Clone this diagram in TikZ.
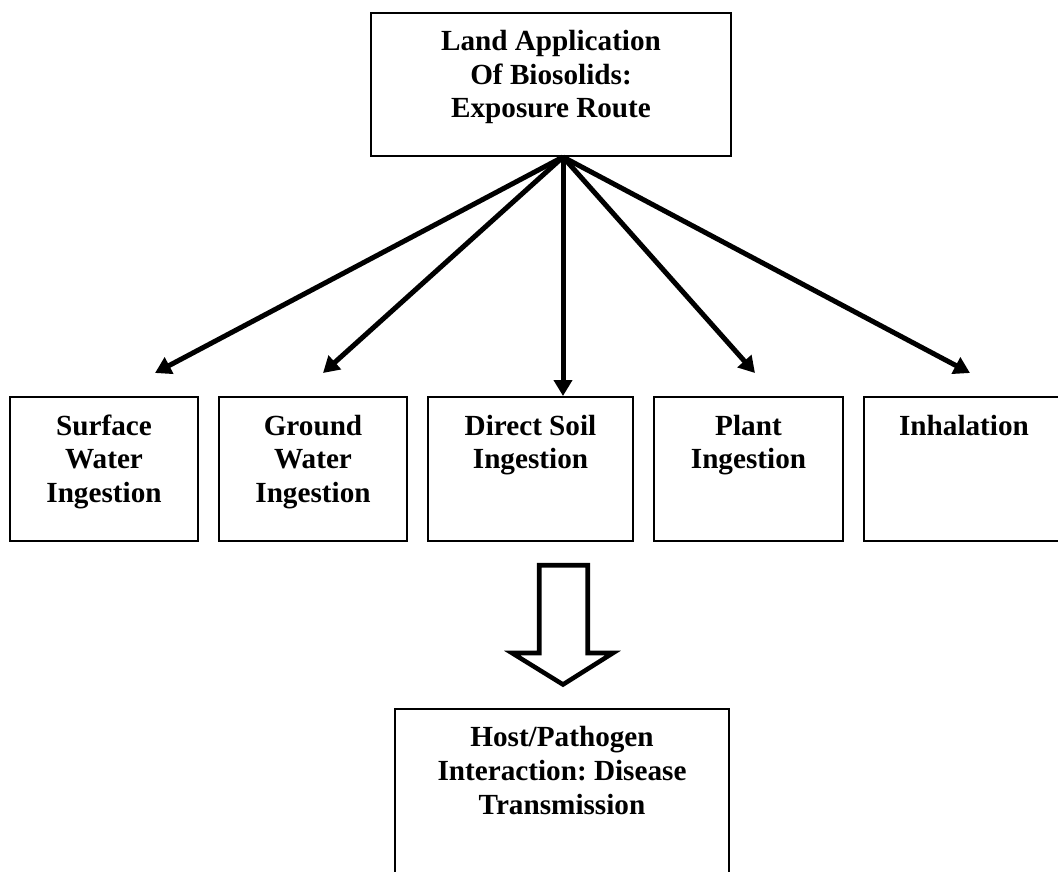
\documentclass[tikz,border=0pt]{standalone}
\usepackage{fontspec}
\setmainfont{Liberation Serif}
\usetikzlibrary{arrows.meta,calc}
\frenchspacing

\begin{document}
\begin{tikzpicture}[x=0.75pt, y=-0.75pt,
  >={Triangle[length=12pt, width=13.5pt]},
  box/.style={draw, line width=1.5pt, inner sep=0pt, minimum height=108pt},
  txt/.style={anchor=north, inner sep=0pt, align=center,
    font=\fontsize{21.9pt}{25.2pt}\selectfont\bfseries},
  route/.style={->, line width=3.75pt}]
  \useasboundingbox (0,0) rectangle (1058,872);
  \clip (0,0) rectangle (1058,872);
  \fill[white] (0,0) rectangle (1058,872);
  % source
  \node[box, line width=1.9pt, minimum width=270pt, minimum height=107.25pt] (land) at (551,84.5) {};
  \node[txt] (landtxt) at ($(land.north)+(0,18.5)$) {Land Application\\Of Biosolids:\\Exposure Route};
  % routes
  \node[box, minimum width=141pt] (surface) at (104,469) {};
  \node[box, minimum width=141pt] (ground) at (313,469) {};
  \node[box, minimum width=153.75pt] (soil) at (530.5,469) {};
  \node[box, minimum width=141.75pt] (plant) at (748.5,469) {};
  \node[box, minimum width=150pt] (inhal) at (964,469) {};
  \node[txt] (surfacetxt) at ($(surface.north)+(0,18.5)$) {Surface\\Water\\Ingestion};
  \node[txt] (groundtxt) at ($(ground.north)+(0,18.5)$) {Ground\\Water\\Ingestion};
  \node[txt] (soiltxt) at ($(soil.north)+(0,18.5)$) {Direct Soil\\Ingestion};
  \node[txt] (planttxt) at ($(plant.north)+(0,18.5)$) {Plant\\Ingestion};
  \node[txt] (inhaltxt) at ($(inhal.north)+(0,18.5)$) {Inhalation};
  % outcome
  \node[box, line width=1.7pt, minimum width=250.5pt, minimum height=135pt] (host) at (562,799) {};
  \node[txt] (hosttxt) at ($(host.north)+(0,18.5)$) {Host/Pathogen\\Interaction: Disease\\Transmission};
  \coordinate (hub) at (563,157);
  \coordinate (t1) at (155,373);
  \coordinate (t2) at (323,373);
  \coordinate (t4) at (755,373);
  \coordinate (t5) at (970,373);
  \draw[route] (hub) -- (t1);
  \draw[route] (hub) -- (t2);
  \draw[route] (hub) -- (hub |- soil.north);
  \draw[route] (hub) -- (t4);
  \draw[route] (hub) -- (t5);
  % hollow arrow
  \draw[line width=3.4pt] (539.25,565.25) -- (587.75,565.25) -- (587.75,653) -- (613,653)
    -- (563,684.5) -- (512,653) -- (539.25,653) -- cycle;
\end{tikzpicture}
\end{document}
